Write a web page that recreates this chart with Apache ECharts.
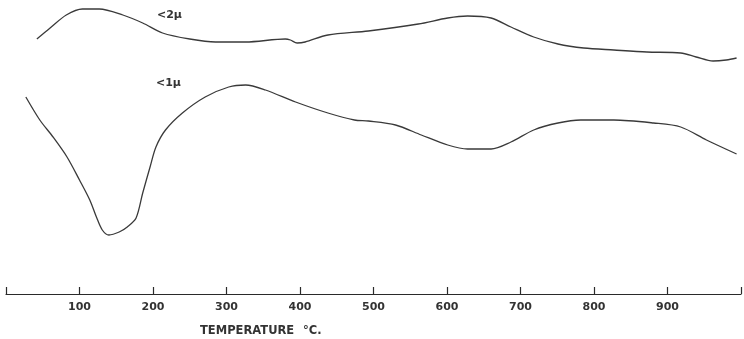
<!DOCTYPE html>
<html>
<head>
<meta charset="utf-8">
<script src="https://cdn.jsdelivr.net/npm/echarts@6/dist/echarts.min.js"></script>
<style>html,body{margin:0;padding:0;background:#fff;}#c{width:744px;height:339px;}</style>
</head>
<body>
<div id="c"></div>
<script>
// Temperature (°C) and relative deflection
const tempUnder2 = [42,60,82,104,127,159,186,213,250,285,326,380,387,396,407,438,493,561,601,628,660,687,718,751,786,827,872,918,939,962,980,994];
const valUnder2  = [255,266,279,285,285,279,271,261,255,252,252,255,254,251,252,259,263,270,276,278,276,267,257,250,246,244,242,241,237,233,234,236];
const tempUnder1 = [27,46,64,83,100,114,123,131,140,154,165,177,186,196,204,217,240,271,303,326,353,394,438,474,493,530,565,601,628,660,687,718,751,782,827,881,918,953,994];
const valUnder1  = [197,174,157,137,114,94,77,64,59,62,67,76,101,127,147,164,181,197,207,209,204,192,181,174,173,169,159,149,145,145,152,164,171,174,174,171,167,154,140];
const tickValues = [100,200,300,400,500,600,700,800,900];
const seriesNames = ['<2\u00b5', '<1\u00b5'];
const axisTitle = ['TEMPERATURE', '\u00b0C.'];

const pair = (xs, ys) => xs.map((x, i) => [x, ys[i]]);
const chart = echarts.init(document.getElementById('c'), null, {renderer: 'canvas'});
const lineStyle = {color: '#3a3a3a', width: 1.3};
chart.setOption({
  animation: false,
  backgroundColor: '#ffffff',
  grid: {left: 6, right: -4.5, top: 0, bottom: 45},
  xAxis: {
    type: 'value', min: 0, max: 1000, interval: 100,
    axisLine: {lineStyle: {color: '#2a2a2a', width: 1.2}},
    axisTick: {inside: true, length: 7, lineStyle: {color: '#2a2a2a', width: 1.2}},
    splitLine: {show: false},
    axisLabel: {
      margin: 8, color: '#333', fontFamily: 'DejaVu Sans', fontWeight: 'bold', fontSize: 11,
      formatter: v => tickValues.includes(v) ? String(v) : ''
    }
  },
  yAxis: {type: 'value', min: 0, max: 294, show: false},
  graphic: [
    {type: 'text', left: 157, top: 10, style: {text: seriesNames[0], fill: '#333', font: 'bold 11px "DejaVu Sans"'}},
    {type: 'text', left: 156, top: 78, style: {text: seriesNames[1], fill: '#333', font: 'bold 11px "DejaVu Sans"'}},
    {type: 'text', left: 200, top: 325, style: {text: axisTitle[0], fill: '#333', font: 'bold 11.5px "DejaVu Sans"'}},
    {type: 'text', left: 303, top: 325, style: {text: axisTitle[1], fill: '#333', font: 'bold 11.5px "DejaVu Sans"'}}
  ],
  series: [
    {name: seriesNames[0], type: 'line', data: pair(tempUnder2, valUnder2), smooth: 0.3, showSymbol: false, lineStyle},
    {name: seriesNames[1], type: 'line', data: pair(tempUnder1, valUnder1), smooth: 0.3, showSymbol: false, lineStyle}
  ]
});
</script>
</body>
</html>
